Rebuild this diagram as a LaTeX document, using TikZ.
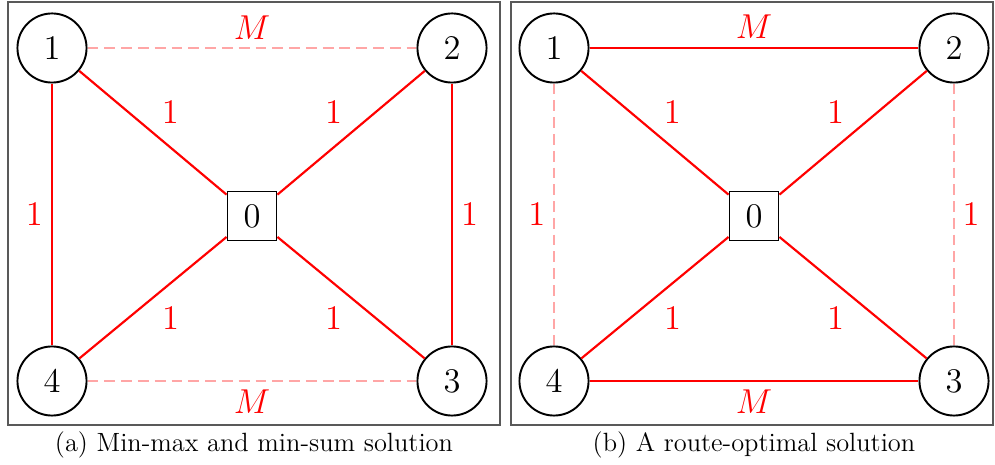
\documentclass[tikz,border=0pt]{standalone}
\usetikzlibrary{positioning}

\tikzset{
  city/.style={circle, draw, thick, minimum size=28.8pt, inner sep=0pt, font=\Large},
  depot/.style={rectangle, draw, thick, minimum size=20.4pt, inner sep=0pt, font=\Large},
  used/.style={red, line width=0.9pt},
  unused/.style={red!35, line width=0.5pt, dash pattern=on 4.5pt off 2.5pt},
  cost/.style={red, font=\Large},
  frame/.style={black!65, line width=0.6pt},
  caption/.style={font=\fontsize{11}{13}\selectfont}
}

\begin{document}
\begin{tikzpicture}[x=0.4167pt, y=-0.4167pt]
  \useasboundingbox (0,0) rectangle (995,465);

  % --- (a) Min-max and min-sum ---
  \draw[frame] (8,2) rectangle (500,425);
  \node[depot] (a0) at (252,216) {0};
  \node[city] (a1) at (52,48) {1};
  \node[city] (a2) at (452,48) {2};
  \node[city] (a3) at (452,381) {3};
  \node[city] (a4) at (52,381) {4};

  % unused edges
  \draw[unused] (a1) -- (a2) node[midway, above, cost] {$M$};
  \draw[unused] (a4) -- (a3) node[midway, below, cost] {$M$};
  % tour edges
  \draw[used] (a1) -- (a0) node[midway, above right, cost] {1};
  \draw[used] (a2) -- (a0) node[midway, above left, cost] {1};
  \draw[used] (a4) -- (a0) node[midway, below right, cost] {1};
  \draw[used] (a3) -- (a0) node[midway, below left, cost] {1};
  \draw[used] (a1) -- (a4) node[midway, left, cost] {1};
  \draw[used] (a2) -- (a3) node[midway, right, cost] {1};

  \node[caption] (capa) at (254,445) {(a) Min-max and min-sum solution};

  % --- (b) Route-optimal ---
  \draw[frame] (511,2) rectangle (993,425);
  \node[depot] (b0) at (754,216) {0};
  \node[city] (b1) at (554,48) {1};
  \node[city] (b2) at (954,48) {2};
  \node[city] (b3) at (954,381) {3};
  \node[city] (b4) at (554,381) {4};

  % unused edges
  \draw[unused] (b1) -- (b4) node[midway, left, cost] {1};
  \draw[unused] (b2) -- (b3) node[midway, right, cost] {1};
  % tour edges
  \draw[used] (b1) -- (b2) node[midway, above, cost] {$M$};
  \draw[used] (b4) -- (b3) node[midway, below, cost] {$M$};
  \draw[used] (b1) -- (b0) node[midway, above right, cost] {1};
  \draw[used] (b2) -- (b0) node[midway, above left, cost] {1};
  \draw[used] (b4) -- (b0) node[midway, below right, cost] {1};
  \draw[used] (b3) -- (b0) node[midway, below left, cost] {1};

  \node[caption] (capb) at (754,445) {(b) A route-optimal solution};
\end{tikzpicture}
\end{document}
